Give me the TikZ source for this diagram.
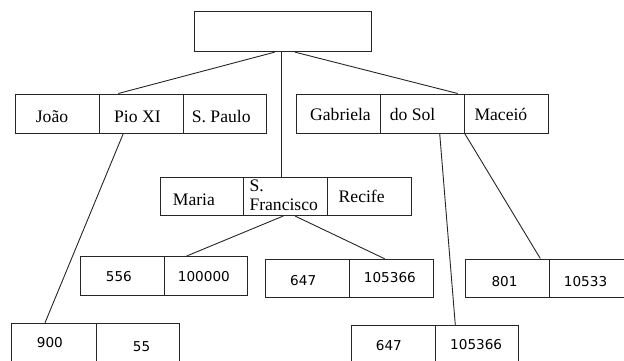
\documentclass[tikz,border=0pt]{standalone}
\usepackage{fontspec}
\setmainfont{Liberation Serif}
\newfontfamily\numfont{DejaVu Sans}
\begin{document}
\begin{tikzpicture}[x=1pt,y=-1pt,
  cell/.style={draw=black!85, line width=1pt, inner sep=0pt, rectangle},
  link/.style={draw=black!85, line width=0.9pt},
  word/.style={inner sep=0pt, anchor=base west, font=\fontsize{17.6}{19}\selectfont},
  num/.style={inner sep=0pt, anchor=base west, font=\numfont\fontsize{13.6}{15}\selectfont}]
\useasboundingbox (0,0) rectangle (624,361);
\clip (0,0) rectangle (624,361);
% root
\node[cell, minimum width=177pt, minimum height=39.7pt] (root) at (282.9,31.8) {};
% row 1 left
\node[cell, minimum width=84pt, minimum height=39pt] (joao) at (57.3,113.5) {};
\node[cell, minimum width=83.7pt, minimum height=39pt] (pio) at (141.15,113.5) {};
\node[cell, minimum width=83.7pt, minimum height=39pt] (spaulo) at (224.85,113.5) {};
% row 1 right
\node[cell, minimum width=84.5pt, minimum height=39pt] (gabriela) at (338.25,113.5) {};
\node[cell, minimum width=83.8pt, minimum height=39pt] (dosol) at (422.4,113.5) {};
\node[cell, minimum width=84.4pt, minimum height=39pt] (maceio) at (506.5,113.5) {};
% row 2
\node[cell, minimum width=83.3pt, minimum height=37.8pt] (maria) at (201.65,196.6) {};
\node[cell, minimum width=84.2pt, minimum height=37.8pt] (sfran) at (285.4,196.6) {};
\node[cell, minimum width=83.7pt, minimum height=37.8pt] (recife) at (369.35,196.6) {};
% row 3
\node[cell, minimum width=84.3pt, minimum height=38.5pt] (c556) at (122.15,275.75) {};
\node[cell, minimum width=83pt, minimum height=38.5pt] (c100000) at (205.8,275.75) {};
\node[cell, minimum width=84pt, minimum height=38pt] (c647) at (307.3,278.3) {};
\node[cell, minimum width=83.7pt, minimum height=38pt] (c105366) at (391.15,278.3) {};
\node[cell, minimum width=84pt, minimum height=38.3pt] (c801) at (507.3,278.15) {};
\node[cell, minimum width=84pt, minimum height=38.3pt] (c10533) at (591.3,278.15) {};
% row 4
\node[cell, minimum width=84.3pt, minimum height=39pt] (c900) at (53.85,342.8) {};
\node[cell, minimum width=83.3pt, minimum height=39pt] (c55) at (137.65,342.8) {};
\node[cell, minimum width=84.5pt, minimum height=39pt] (c647b) at (393.25,345) {};
\node[cell, minimum width=82.8pt, minimum height=39pt] (c105366b) at (476.9,345) {};
% texts
\node[word] (tjoao) at (35.7,122) {João};
\node[word] (tpio) at (114,122) {Pio XI};
\node[word] (tspaulo) at (191.7,122) {S. Paulo};
\node[word] (tgab) at (310,120.7) {Gabriela};
\node[word] (tdosol) at (389.7,121) {do Sol};
\node[word] (tmaceio) at (474.3,120.7) {Maceió};
\node[word] (tmaria) at (172.7,205) {Maria};
\node[word] (tsfran1) at (249.3,191) {S.};
\node[word] (tsfran2) at (249.3,210) {Francisco};
\node[word] (trecife) at (338.5,202.7) {Recife};
\node[num] (t556) at (105.7,281) {556};
\node[num] (t100000) at (177.7,281) {100000};
\node[num] (t647) at (290,285) {647};
\node[num] (t105366) at (363.7,282.3) {105366};
\node[num] (t801) at (491.3,286) {801};
\node[num] (t10533) at (563.7,286.7) {10533};
\node[num] (t900) at (36.7,347.7) {900};
\node[num] (t55) at (132.7,351) {55};
\node[num] (t647b) at (375.7,350) {647};
\node[num] (t105366b) at (450,349.3) {105366};
% connectors
\draw[link] ([xshift=-8.2pt]root.south) -- ([xshift=-22.85pt]pio.north);
\draw[link] ([xshift=-1.2pt]root.south) -- ([xshift=-3.7pt]sfran.north);
\draw[link] ([xshift=12.1pt]root.south) -- ([xshift=35.3pt]dosol.north);
\draw[link] ([xshift=-17.85pt]pio.south) -- ([xshift=-8.85pt]c900.north);
\draw[link] ([xshift=-2.1pt]sfran.south) -- ([xshift=-19.1pt]c100000.north);
\draw[link] ([xshift=9.6pt]sfran.south) -- ([xshift=-6.45pt]c105366.north);
\draw[link] ([xshift=17.3pt]dosol.south) -- ([xshift=-21.6pt]c105366b.north);
\draw[link] ([xshift=-41.8pt]maceio.south) -- ([xshift=33pt]c801.north);
\end{tikzpicture}
\end{document}
